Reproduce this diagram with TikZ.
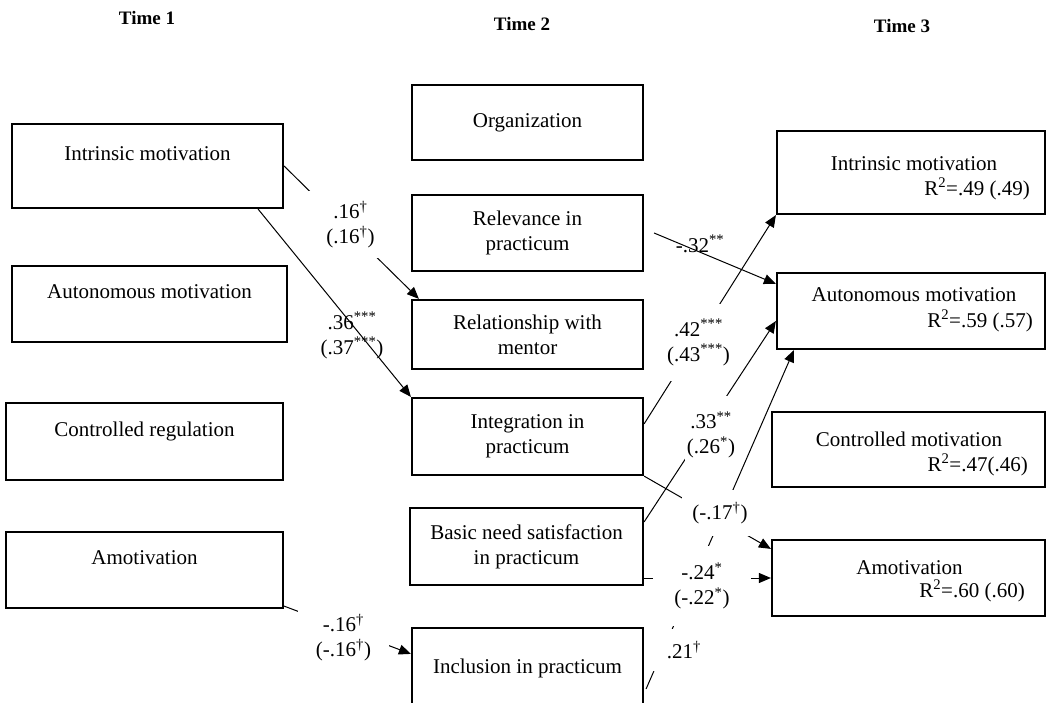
\documentclass[tikz,border=0pt]{standalone}
\usepackage{fontspec}
\setmainfont{Liberation Serif}
\usetikzlibrary{arrows.meta, calc}
\newcommand{\dg}{\textsuperscript{\textdagger}}
\newcommand{\sg}[1]{\textsuperscript{#1}}
\tikzset{
  box/.style={draw=black, line width=2.2pt, minimum width=231pt, minimum height=76pt,
              inner sep=2pt, align=center, font=\fontsize{21}{25}\selectfont},
  arr/.style={-{Triangle[length=12pt, width=10pt]}, line width=1pt, draw=black},
  lbl/.style={align=center, font=\fontsize{21}{25}\selectfont, inner sep=0pt},
  cut/.style={lbl, fill=white},
  txt/.style={font=\fontsize{21}{25}\selectfont, inner sep=0pt},
  hdr/.style={font=\fontsize{19}{22}\selectfont\bfseries, inner sep=1pt},
}

\begin{document}
\begin{tikzpicture}[x=1pt, y=-1pt]
  \useasboundingbox (0,0) rectangle (1047,702);
  \clip (0,0) rectangle (1047,702);
  \node[hdr] (t1) at (147,18) {Time 1};
  \node[hdr] (t2) at (522,24) {Time 2};
  \node[hdr] (t3) at (902,26) {Time 3};
  % Time 1
  \node[box, minimum width=271pt, minimum height=84pt] (im1) at (147.5,166) {Intrinsic motivation\\\mbox{}};
  \node[box, minimum width=275pt] (am1) at (149.5,304) {Autonomous motivation\\\mbox{}};
  \node[box, minimum width=277pt, minimum height=77pt] (cr1) at (144.5,441.5) {Controlled regulation\\\mbox{}};
  \node[box, minimum width=277pt] (amo1) at (144.5,570) {Amotivation\\\mbox{}};
  % Time 2
  \node[box, minimum height=75pt] (org) at (527.5,122.5) {Organization};
  \node[box] (rel) at (527.5,233) {Relevance in\\practicum};
  \node[box, minimum height=69pt] (men) at (527.5,334.5) {Relationship with\\mentor};
  \node[box, minimum height=77pt] (int) at (527.5,436.5) {Integration in\\practicum};
  \node[box, minimum width=233pt, minimum height=77pt] (bns) at (526.5,546.5) {Basic need satisfaction\\in practicum};
  \node[box, minimum height=80pt] (inc) at (527.5,668) {Inclusion in practicum};
  % Time 3
  \node[box, minimum width=268pt, minimum height=83pt] (im3) at (911,172.5) {};
  \node[txt, anchor=base] (im3t) at (914,170) {Intrinsic motivation};
  \node[txt, anchor=base east] (im3r) at (1030,195) {R\sg{2}=.49 (.49)};
  \node[box, minimum width=268pt, minimum height=76pt] (am3) at (911,311) {};
  \node[txt, anchor=base] (am3t) at (914,301) {Autonomous motivation};
  \node[txt, anchor=base east] (am3r) at (1033,327) {R\sg{2}=.59 (.57)};
  \node[box, minimum width=273pt, minimum height=75pt] (cm3) at (908.5,449.5) {};
  \node[txt, anchor=base] (cm3t) at (909,446) {Controlled motivation};
  \node[txt, anchor=base east] (cm3r) at (1028,471) {R\sg{2}=.47(.46)};
  \node[box, minimum width=273pt, minimum height=76pt] (amo3) at (908.5,578) {};
  \node[txt, anchor=base] (amo3t) at (909.5,574) {Amotivation};
  \node[txt, anchor=base east] (amo3r) at (1025,597) {R\sg{2}=.60 (.60)};
  % paths
  \draw[arr] (im1.east) -- ($(men.north west)+(8,0)$);
  \draw[arr] ($(im1.south east)+(-26,0)$) -- (int.north west);
  \draw[arr] ($(amo1.south east)+(0,-3)$) -- ($(inc.north west)+(0,27)$);
  \draw[arr] ($(rel.east)+(10,0)$) -- ($(am3.north west)+(0,12)$);
  \draw[arr] ($(int.north east)+(0,27)$) -- (im3.south west);
  \draw[arr] ($(bns.north east)+(0,15)$) -- ($(am3.west)+(0,10)$);
  \draw[arr] ($(inc.north east)+(2,62)$) -- ($(am3.south west)+(18,0)$);
  \draw[arr] (int.south east) -- ($(amo3.north west)+(0,10)$);
  \draw[arr] (bns.east |- amo3.west) -- (amo3.west);
  % coefficients
  \node[cut, inner xsep=18pt, inner ysep=10pt] (c1) at (350.5,224.7) {.16\dg\\(.16\dg)};
  \node[lbl] (c2) at (352,335.6) {.36\sg{***}\\(.37\sg{***})};
  \node[lbl, anchor=base] (c3) at (700,252) {-.32\sg{**}};
  \node[cut, inner xsep=2pt, inner ysep=15.5pt] (c4) at (698.5,342.6) {.42\sg{***}\\(.43\sg{***})};
  \node[cut, inner xsep=2pt, inner ysep=15.5pt] (c5) at (711,434.7) {.33\sg{**}\\(.26\sg{*})};
  \node[cut, inner xsep=10pt, inner ysep=12pt] (c6) at (720,513) {(-.17\dg)};
  \node[cut, inner xsep=21.5pt, inner ysep=16.5pt] (c7) at (702,586) {-.24\sg{*}\\(-.22\sg{*})};
  \node[cut, inner xsep=16pt, inner ysep=12pt] (c8) at (684,650) {.21\dg};
  \node[cut, inner xsep=17.5pt, inner ysep=5pt] (c9) at (343.5,637.7) {-.16\dg\\(-.16\dg)};
\end{tikzpicture}
\end{document}
